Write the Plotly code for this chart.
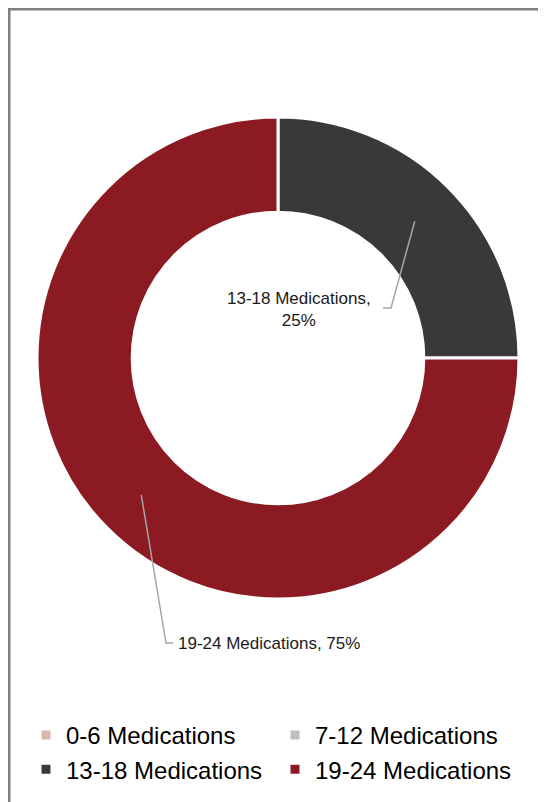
import math
import plotly.graph_objects as go

# ---- data ----
categories = ["0-6 Medications", "7-12 Medications", "13-18 Medications", "19-24 Medications"]
values = [0, 0, 25, 75]
colors = ["#DDB6AE", "#BFBFBF", "#3A3839", "#8B1A22"]

# page body has an 8px margin, so the figure is sized to fit and offsets are in figure px
W, H = 538, 794
FONT = "Liberation Sans, Arial, sans-serif"

# donut geometry (figure pixels)
cx, cy, R = 270, 350, 241
hole = 0.605

def px2paper(x, y):
    return x / W, 1 - y / H

fig = go.Figure()
fig.add_trace(go.Pie(
    labels=categories,
    values=values,
    hole=hole,
    sort=False,
    direction="clockwise",
    rotation=0,
    marker=dict(colors=colors, line=dict(color="white", width=3)),
    textinfo="none",
    hoverinfo="label+value+percent",
    domain=dict(x=[(cx - R) / W, (cx + R) / W], y=[1 - (cy + R) / H, 1 - (cy - R) / H]),
    showlegend=True,
))

# leader lines and labels computed from the slice angles
total = sum(values)
label_layout = {
    "13-18 Medications": dict(elbow=(383, 300), end=(375, 300), text_xy=(291, 301), xanchor="center", br=True),
    "19-24 Medications": dict(elbow=(158, 635), end=(165, 635), text_xy=(168, 635), xanchor="left", br=False),
}
shapes = []
annotations = []
cum = 0
rmid = R * (1 + hole) / 2
for cat, v in zip(categories, values):
    if v > 0 and cat in label_layout:
        th = 2 * math.pi * (cum + v / 2) / total
        px = cx + rmid * math.sin(th)
        py = cy - rmid * math.cos(th)
        L = label_layout[cat]
        p0 = px2paper(px, py)
        p1 = px2paper(*L["elbow"])
        p2 = px2paper(*L["end"])
        shapes.append(dict(type="path", xref="paper", yref="paper",
                           path=f"M{p0[0]},{p0[1]} L{p1[0]},{p1[1]} L{p2[0]},{p2[1]}",
                           line=dict(color="#A6A6A6", width=1.5)))
        pct = round(100 * v / total)
        sep = ",<br>" if L["br"] else ", "
        tx, ty = px2paper(*L["text_xy"])
        annotations.append(dict(x=tx, y=ty, xref="paper", yref="paper",
                                text=f"{cat}{sep}{pct}%", showarrow=False,
                                xanchor=L["xanchor"], yanchor="middle", align="center",
                                font=dict(family=FONT, size=17, color="#1a1a1a")))
    cum += v

# outer chart border
shapes.append(dict(type="rect", xref="paper", yref="paper",
                   x0=1.25 / W, x1=1.2, y0=-0.2, y1=1 - 1.25 / H,
                   line=dict(color="#7F7F7F", width=2.5), fillcolor="rgba(0,0,0,0)"))

fig.update_layout(
    width=W, height=H,
    margin=dict(l=0, r=0, t=0, b=0, autoexpand=False),
    paper_bgcolor="white",
    plot_bgcolor="white",
    font=dict(family=FONT, color="#000000"),
    shapes=shapes,
    annotations=annotations,
    legend=dict(orientation="h", x=18 / W, y=1 - 705 / H, xanchor="left", yanchor="top",
                font=dict(family=FONT, size=24, color="#000000"),
                entrywidth=204, entrywidthmode="pixels", traceorder="normal"),
)

fig.write_html("out.html")
